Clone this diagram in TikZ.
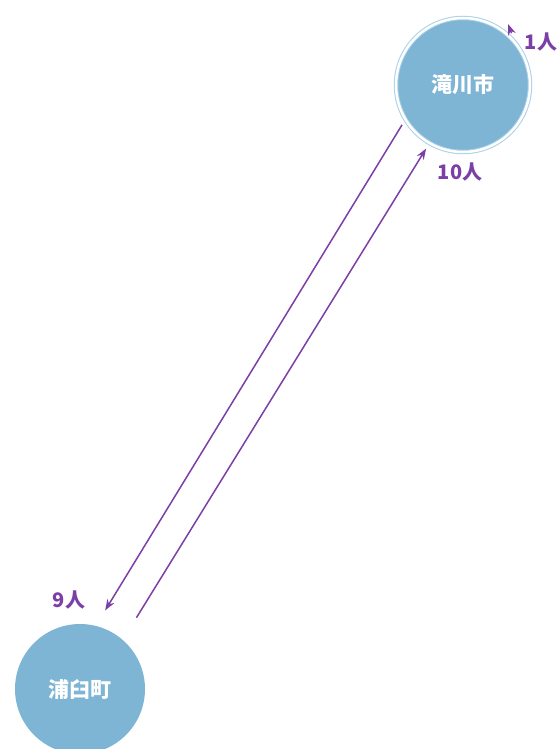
\documentclass[tikz,border=0pt]{standalone}
\usepackage{fontspec}
\newfontfamily\jpfont{Noto Sans CJK JP}
\usepackage{tikz}
\usetikzlibrary{arrows.meta,positioning,calc,backgrounds}
\usepackage{xcolor}

\definecolor{townblue}{HTML}{7EB4D4}
\definecolor{ringblue}{HTML}{A9D0E6}
\definecolor{flowpurple}{HTML}{7B3FA6}

\tikzset{
    town/.style={circle, fill=townblue, inner sep=0pt, text=white, font=\jpfont\bfseries\fontsize{21}{21}\selectfont},
    flow/.style={flowpurple, line width=1.5pt, -{Stealth[length=11pt,width=8pt]}},
    count/.style={text=flowpurple, font=\jpfont\bfseries\fontsize{20}{20}\selectfont}
}

\begin{document}
\begin{tikzpicture}[x=1pt, y=-1pt]
    \useasboundingbox (0,0) rectangle (559,749);

    % Towns
    \node[town, minimum size=134pt, draw=ringblue, line width=1pt, double=white, double distance=2.5pt] (takikawa) at (463,85) {滝川市};
    \node[town, minimum size=130pt] (urausu) at (80,689) {浦臼町};

    % Flows between towns
    \draw[flow, shorten <=6pt, shorten >=18pt] (takikawa.211) -- (urausu.76);
    \draw[flow, shorten <=26pt, shorten >=6pt] (urausu.49) -- (takikawa.240);

    % Self flow
    \coordinate (selfend) at (508,24);
    \draw[flow, shorten <=9pt] (takikawa.40) -- (selfend);

    % Counts
    \node[count] (c9) at (69,600) {9人};
    \node[count] (c10) at (460,172) {10人};
    \node[count] (c1) at (541,42) {1人};
\end{tikzpicture}
\end{document}
